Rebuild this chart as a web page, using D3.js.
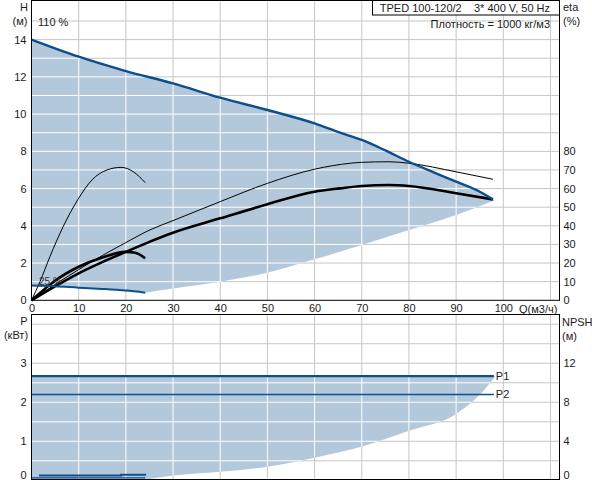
<!DOCTYPE html>
<html>
<head>
<meta charset="utf-8">
<script src="https://cdn.jsdelivr.net/npm/d3@7"></script>
<style>
    body { margin: 0; background: #fff; }
    text { font-family: "Liberation Sans", Arial, sans-serif; font-size: 11px; fill: #1a1a1a; }
</style>
</head>
<body>
<div id="chart"></div>
<script>

// ---- Data ----
const qTicks = [0, 10, 20, 30, 40, 50, 60, 70, 80, 90, 100];
const hTicks = [0, 2, 4, 6, 8, 10, 12, 14];
const etaTicks = [0, 10, 20, 30, 40, 50, 60, 70, 80];
const pTicks = [0, 1, 2, 3];
const npshTicks = [0, 4, 8, 12];

// QH curve, max speed (110 %)
const qhMaxQ = [0, 10, 20, 30, 40, 50, 60, 65.4, 70, 75, 80, 85, 90, 95, 97.8];
const qhMaxH = [14, 13.08, 12.31, 11.65, 10.88, 10.22, 9.5, 9.0, 8.61, 8.05, 7.44, 6.9, 6.37, 5.83, 5.42];

// QH curve, min speed (25 %)
const qhMinQ = [0, 5, 10, 15, 20, 24.1];
const qhMinH = [0.8, 0.76, 0.68, 0.61, 0.52, 0.41];

// lower edge of the operating area
const edgeQ = [24.1, 30, 40, 50, 57, 60, 70, 80, 90, 98.3];
const edgeH = [0.41, 0.64, 1.0, 1.48, 1.99, 2.2, 2.97, 3.77, 4.58, 5.38];

// efficiency curves (%)
const etaMaxThinQ = [0, 5, 10, 15, 20, 25.1, 30, 40, 50, 60, 67.6, 70, 75.8, 80, 90, 97.8];
const etaMaxThin = [0, 8.5, 16.5, 24, 31, 37.8, 42.8, 53, 62.8, 70.4, 73.6, 74.1, 74.4, 73.6, 69, 65];
const etaMaxThickQ = [0, 5, 10, 15, 20, 25.1, 30, 40, 50, 60, 65.4, 70, 75.8, 80, 90, 97.8];
const etaMaxThick = [0, 7.5, 14.5, 20.5, 26, 31.5, 36.3, 44, 51.6, 58.3, 60.1, 61.4, 61.9, 61.4, 57.5, 54.2];
const etaMinThinQ = [0, 1.8, 3.9, 6.7, 10, 12.8, 16, 19, 21.6, 24.1];
const etaMinThin = [0, 10, 23.4, 39.5, 54.8, 64.6, 70, 71.4, 69, 63.2];
const etaMinThickQ = [0, 3, 5, 10, 15, 20, 22, 24.1];
const etaMinThick = [0, 6.5, 10.5, 18, 23, 26, 25.5, 22.6];

// power (kW)
const p1Q = [0, 98];
const p1 = [2.67, 2.67];
const p2Q = [0, 98];
const p2 = [2.2, 2.2];
const p1MinQ = [1.6, 19, 19, 24.3];
const p1Min = [0.12, 0.12, 0.14, 0.14];
const p2MinQ = [0, 24.1];
const p2Min = [0.06, 0.06];
const pEdgeQ = [0, 24.1, 30, 40, 50, 57, 60, 70, 80, 90, 95, 98.3];
const pEdge = [0, 0.03, 0.12, 0.22, 0.35, 0.5, 0.58, 0.86, 1.27, 1.7, 2.19, 2.67];

const zip = (a, b) => a.map((v, i) => [v, b[i]]);

// ---- Layout ----
const svg = d3.select("#chart")
    .append("svg")
    .attr("width", 592)
    .attr("height", 480);

const left = 31.5, right = 559.5;
const x = d3.scaleLinear().domain([0, 100]).range([31.5, 503.3]);
const yH = d3.scaleLinear().domain([0, 16.1]).range([300.3, 0.5]);
const yEta = d3.scaleLinear().domain([0, 161]).range([300.3, 0.5]);
const yP = d3.scaleLinear().domain([0, 4.25]).range([480.3, 314.5]);
const yN = d3.scaleLinear().domain([0, 17]).range([480.3, 314.5]);

const fillCol = "#b4c8dc", blue = "#0d4f8c", gridCol = "#c6c6c6";

const smooth = (ys) => d3.line().x(d => x(d[0])).y(d => ys(d[1])).curve(d3.curveMonotoneX);
const straight = (ys) => d3.line().x(d => x(d[0])).y(d => ys(d[1]));

const gridQ = d3.range(10, 111, 10);

function grid(g, ys, vals, top, bottom, col) {
    g.selectAll("line.v").data(gridQ).join("line").attr("class", "v")
        .attr("x1", d => x(d)).attr("x2", d => x(d))
        .attr("y1", top).attr("y2", bottom)
        .attr("stroke", col).attr("stroke-width", 1);
    g.selectAll("line.h").data(vals).join("line").attr("class", "h")
        .attr("x1", left).attr("x2", right)
        .attr("y1", d => ys(d)).attr("y2", d => ys(d))
        .attr("stroke", col).attr("stroke-width", 1);
}

// ---- TOP PANEL ----
const hGrid = d3.range(1, 16);
grid(svg.append("g"), yH, hGrid, 0.5, 300.3, gridCol);

// operating area
const topArea = smooth(yH)(zip(qhMaxQ, qhMaxH))
    + straight(yH)([[98.3, 5.38]]).replace("M", "L")
    + smooth(yH)(zip(edgeQ, edgeH).reverse()).replace("M", "L")
    + smooth(yH)(zip(qhMinQ, qhMinH).reverse()).replace("M", "L") + "Z";

svg.append("clipPath").attr("id", "clipTop").append("path").attr("d", topArea);
svg.append("path").attr("d", topArea).attr("fill", fillCol);
grid(svg.append("g").attr("clip-path", "url(#clipTop)"), yH, hGrid, 0.5, 300.3, "#fff");

// efficiency curves
[[etaMaxThinQ, etaMaxThin, 1], [etaMinThinQ, etaMinThin, 1],
 [etaMaxThickQ, etaMaxThick, 2.6], [etaMinThickQ, etaMinThick, 2.6]].forEach(c => {
    svg.append("path")
        .attr("d", smooth(yEta)(zip(c[0], c[1])))
        .attr("fill", "none").attr("stroke", "#000").attr("stroke-width", c[2]);
});

// QH curves
svg.append("path").attr("d", smooth(yH)(zip(qhMaxQ, qhMaxH)))
    .attr("fill", "none").attr("stroke", blue).attr("stroke-width", 2.4);
svg.append("path").attr("d", smooth(yH)(zip(qhMinQ, qhMinH)))
    .attr("fill", "none").attr("stroke", blue).attr("stroke-width", 2);

svg.append("text").attr("x", 39).attr("y", 285).text("25 %").style("font-size", "10px").style("fill", "#333");
svg.append("text").attr("x", 38).attr("y", 26).text("110 %").style("fill", "#222");

// frame
svg.append("rect").attr("x", left).attr("y", 0.5).attr("width", right - left).attr("height", 299.8)
    .attr("fill", "none").attr("stroke", "#000");

// title box
svg.append("rect").attr("x", 372.5).attr("y", 0.5).attr("width", 187).attr("height", 14.5)
    .attr("fill", "#fff").attr("stroke", "#000");
svg.append("text").attr("x", 550).attr("y", 11.5).attr("text-anchor", "end")
    .attr("xml:space", "preserve").text("TPED 100-120/2    3* 400 V, 50 Hz");
svg.append("text").attr("x", 550).attr("y", 28).attr("text-anchor", "end")
    .text("Плотность = 1000 кг/м3");

// axes
function clean(g, size) {
    g.select(".domain").remove();
    g.selectAll("text").style("font-family", null).style("font-size", size || "11px").attr("fill", null);
}
svg.append("g").attr("transform", "translate(" + left + ",0)")
    .call(d3.axisLeft(yH).tickValues(hTicks).tickSize(0).tickPadding(5).tickFormat(d3.format("d")))
    .attr("font-family", null).attr("font-size", null).call(clean);
svg.append("g").attr("transform", "translate(" + right + ",0)")
    .call(d3.axisRight(yEta).tickValues(etaTicks).tickSize(0).tickPadding(4).tickFormat(d3.format("d")))
    .attr("font-family", null).attr("font-size", null).call(clean);
svg.append("g").attr("transform", "translate(0,300.3)")
    .call(d3.axisBottom(x).tickValues(qTicks).tickSize(0).tickPadding(4).tickFormat(d3.format("d")))
    .attr("font-family", null).attr("font-size", null).call(clean);

svg.append("text").attr("x", 24).attr("y", 11).attr("text-anchor", "middle").text("H");
svg.append("text").attr("x", 20).attr("y", 25).attr("text-anchor", "middle").text("(м)");
svg.append("text").attr("x", 563).attr("y", 11).text("eta");
svg.append("text").attr("x", 563).attr("y", 25).text("(%)");
svg.append("text").attr("x", 519).attr("y", 313).text("Q(м3/ч)");

// ---- BOTTOM PANEL ----
const pGrid = d3.range(0.5, 4.01, 0.5);
grid(svg.append("g"), yP, pGrid, 314.5, 479.5, gridCol);

const botArea = straight(yP)(zip(p1Q, p1)).replace("Z", "")
    + straight(yP)([[98.3, 2.67]]).replace("M", "L")
    + smooth(yP)(zip(pEdgeQ, pEdge).reverse()).replace("M", "L") + "Z";

svg.append("clipPath").attr("id", "clipBot").append("path").attr("d", botArea);
svg.append("path").attr("d", botArea).attr("fill", fillCol);
grid(svg.append("g").attr("clip-path", "url(#clipBot)"), yP, pGrid, 314.5, 479.5, "#fff");

svg.append("path").attr("d", straight(yP)(zip(p1Q, p1)))
    .attr("fill", "none").attr("stroke", blue).attr("stroke-width", 2.2);
svg.append("path").attr("d", straight(yP)(zip(p2Q, p2)))
    .attr("fill", "none").attr("stroke", blue).attr("stroke-width", 1.4);
svg.append("path").attr("d", straight(yP)(zip(p1MinQ, p1Min)))
    .attr("fill", "none").attr("stroke", blue).attr("stroke-width", 2);
svg.append("path").attr("d", straight(yP)(zip(p2MinQ, p2Min)))
    .attr("fill", "none").attr("stroke", blue).attr("stroke-width", 1.2);

svg.append("text").attr("x", x(98) + 2).attr("y", yP(2.67) + 4).text("P1");
svg.append("text").attr("x", x(98) + 2).attr("y", yP(2.2) + 4).text("P2");

svg.append("rect").attr("x", left).attr("y", 314.5).attr("width", right - left).attr("height", 165)
    .attr("fill", "none").attr("stroke", "#000");

svg.append("g").attr("transform", "translate(" + left + ",0)")
    .call(d3.axisLeft(yP).tickValues(pTicks).tickSize(0).tickPadding(5).tickFormat(d3.format("d")))
    .attr("font-family", null).attr("font-size", null).call(clean)
    .selectAll(".tick").filter(d => d === 0).select("text").attr("dy", "-0.15em");
svg.append("g").attr("transform", "translate(" + right + ",0)")
    .call(d3.axisRight(yN).tickValues(npshTicks).tickSize(0).tickPadding(4).tickFormat(d3.format("d")))
    .attr("font-family", null).attr("font-size", null).call(clean)
    .selectAll(".tick").filter(d => d === 0).select("text").attr("dy", "-0.15em");

svg.append("text").attr("x", 24).attr("y", 325).attr("text-anchor", "middle").text("P");
svg.append("text").attr("x", 16).attr("y", 339).attr("text-anchor", "middle").text("(кВт)");
svg.append("text").attr("x", 562).attr("y", 326).text("NPSH");
svg.append("text").attr("x", 562).attr("y", 340).text("(м)");

</script>
</body>
</html>
